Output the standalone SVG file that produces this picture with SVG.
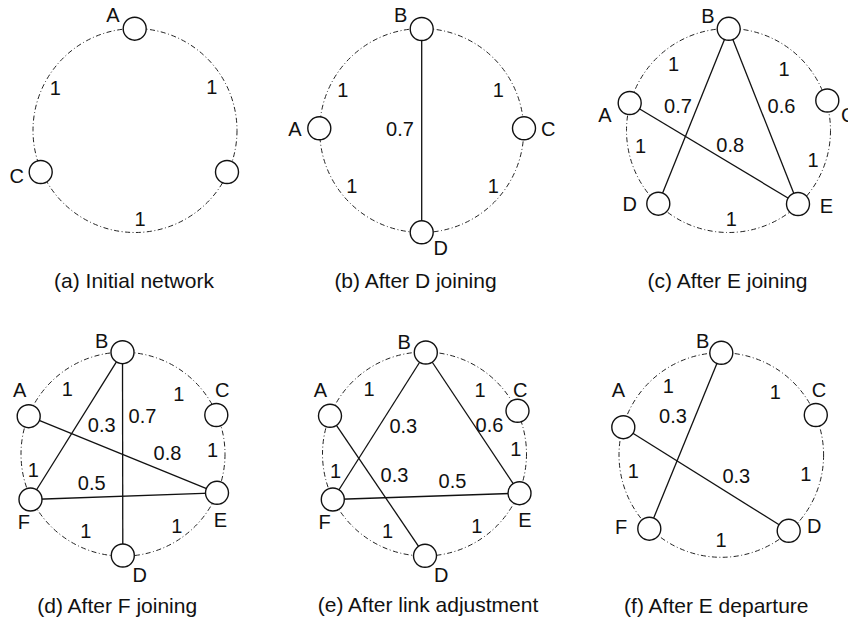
<svg xmlns="http://www.w3.org/2000/svg" width="848" height="622" viewBox="0 0 848 622">
<style>
text{font-family:"Liberation Sans",Arial,sans-serif;fill:#111}
.lbl{font-size:20px;text-anchor:middle}
.cap{font-size:21px;text-anchor:middle}
.ring{fill:none;stroke:#222;stroke-width:1;stroke-dasharray:5 2.5 1 2.5}
.edge{stroke:#111;stroke-width:1.3;fill:none}
.nd{fill:#fff;stroke:#111;stroke-width:1.4}
</style>
<rect width="848" height="622" fill="#fff"/>

<!-- rings -->
<g id="rings">
<circle class="ring" cx="135" cy="130.5" r="102"/>
<circle class="ring" cx="421.7" cy="130.5" r="102"/>
<circle class="ring" cx="728.5" cy="130.5" r="102"/>
<circle class="ring" cx="123" cy="454.2" r="102"/>
<circle class="ring" cx="424.5" cy="454" r="102"/>
<circle class="ring" cx="721.3" cy="455" r="102.3"/>
</g>

<!-- connectors -->
<g id="connectors">
<line class="edge" x1="421.7" y1="29" x2="421.7" y2="232.3"/>
<line class="edge" x1="728.7" y1="29" x2="658.3" y2="203.7"/>
<line class="edge" x1="728.7" y1="29" x2="798" y2="204"/>
<line class="edge" x1="629.7" y1="103" x2="798" y2="204"/>
<line class="edge" x1="122.5" y1="352.2" x2="30.5" y2="499.5"/>
<line class="edge" x1="122.5" y1="352.2" x2="122.8" y2="555.5"/>
<line class="edge" x1="28.7" y1="416.2" x2="217" y2="492.8"/>
<line class="edge" x1="30.5" y1="499.5" x2="217" y2="492.8"/>
<line class="edge" x1="425.8" y1="352.5" x2="332.8" y2="499.5"/>
<line class="edge" x1="425.8" y1="352.5" x2="519.5" y2="493.2"/>
<line class="edge" x1="330" y1="415.8" x2="425" y2="555.8"/>
<line class="edge" x1="332.8" y1="499.5" x2="519.5" y2="493.2"/>
<line class="edge" x1="721.3" y1="352.8" x2="649.3" y2="528.7"/>
<line class="edge" x1="623.3" y1="427.2" x2="788.7" y2="530.8"/>
</g>

<!-- panel a -->
<g id="a-A"><circle class="nd" cx="134.7" cy="28.7" r="11.5"/><text class="lbl" x="113" y="21.7">A</text></g>
<g id="a-C"><circle class="nd" cx="40.7" cy="172" r="11.5"/><text class="lbl" x="16.7" y="183.3">C</text></g>
<g id="a-X"><circle class="nd" cx="227" cy="172" r="11.5"/></g>
<g id="a-labels">
<text class="lbl" x="55.2" y="95">1</text>
<text class="lbl" x="211.7" y="94">1</text>
<text class="lbl" x="140" y="225.7">1</text>
<text class="cap" x="134" y="288">(a) Initial network</text>
</g>

<!-- panel b -->
<g id="b-B"><circle class="nd" cx="421.7" cy="29" r="11.5"/><text class="lbl" x="400.7" y="22.3">B</text></g>
<g id="b-A"><circle class="nd" cx="319.3" cy="128.3" r="11.5"/><text class="lbl" x="295" y="136">A</text></g>
<g id="b-C"><circle class="nd" cx="524" cy="128.3" r="11.5"/><text class="lbl" x="548.3" y="136">C</text></g>
<g id="b-D"><circle class="nd" cx="421.7" cy="232.3" r="11.5"/><text class="lbl" x="440.7" y="255">D</text></g>
<g id="b-labels">
<text class="lbl" x="342.7" y="96.7">1</text>
<text class="lbl" x="498.3" y="96.7">1</text>
<text class="lbl" x="351.7" y="192.7">1</text>
<text class="lbl" x="493.3" y="192.7">1</text>
<text class="lbl" x="400" y="136">0.7</text>
<text class="cap" x="415.5" y="288">(b) After D joining</text>
</g>

<!-- panel c -->
<g id="c-B"><circle class="nd" cx="728.7" cy="28.8" r="11.5"/><text class="lbl" x="708" y="23.3">B</text></g>
<g id="c-A"><circle class="nd" cx="629.7" cy="103" r="11.5"/><text class="lbl" x="604.8" y="121.7">A</text></g>
<g id="c-C"><circle class="nd" cx="827.3" cy="100.5" r="11.5"/><text class="lbl" x="841" y="122" style="text-anchor:start">C</text></g>
<g id="c-D"><circle class="nd" cx="658.3" cy="203.7" r="11.5"/><text class="lbl" x="629.7" y="210.7">D</text></g>
<g id="c-E"><circle class="nd" cx="798" cy="204" r="11.5"/><text class="lbl" x="826.3" y="213.3">E</text></g>
<g id="c-labels">
<text class="lbl" x="673.5" y="70.7">1</text>
<text class="lbl" x="784" y="75.7">1</text>
<text class="lbl" x="678" y="113.3">0.7</text>
<text class="lbl" x="781.5" y="113.3">0.6</text>
<text class="lbl" x="730.2" y="152.3">0.8</text>
<text class="lbl" x="640.5" y="153.3">1</text>
<text class="lbl" x="813" y="167.3">1</text>
<text class="lbl" x="731.3" y="225.7">1</text>
<text class="cap" x="727.5" y="288">(c) After E joining</text>
</g>

<!-- panel d -->
<g id="d-B"><circle class="nd" cx="122.5" cy="352.2" r="11.5"/><text class="lbl" x="101.7" y="348.3">B</text></g>
<g id="d-A"><circle class="nd" cx="28.7" cy="416.2" r="11.5"/><text class="lbl" x="19.7" y="397.3">A</text></g>
<g id="d-C"><circle class="nd" cx="216.3" cy="415" r="11.5"/><text class="lbl" x="222.2" y="397.3">C</text></g>
<g id="d-E"><circle class="nd" cx="217" cy="492.8" r="11.5"/><text class="lbl" x="220.3" y="527.3">E</text></g>
<g id="d-F"><circle class="nd" cx="30.5" cy="499.5" r="11.5"/><text class="lbl" x="23.8" y="529.3">F</text></g>
<g id="d-D"><circle class="nd" cx="122.8" cy="555.5" r="11.5"/><text class="lbl" x="139.7" y="581.7">D</text></g>
<g id="d-labels">
<text class="lbl" x="67.2" y="395.7">1</text>
<text class="lbl" x="178.8" y="400.7">1</text>
<text class="lbl" x="101.7" y="431.7">0.3</text>
<text class="lbl" x="142.5" y="423.3">0.7</text>
<text class="lbl" x="167.5" y="460">0.8</text>
<text class="lbl" x="212.5" y="457.3">1</text>
<text class="lbl" x="33.3" y="477.3">1</text>
<text class="lbl" x="91.7" y="490">0.5</text>
<text class="lbl" x="85.8" y="538.3">1</text>
<text class="lbl" x="176.7" y="533.3">1</text>
<text class="cap" x="117.2" y="613">(d) After F joining</text>
</g>

<!-- panel e -->
<g id="e-B"><circle class="nd" cx="425.8" cy="352.5" r="11.5"/><text class="lbl" x="404.2" y="349.3">B</text></g>
<g id="e-A"><circle class="nd" cx="330" cy="415.8" r="11.5"/><text class="lbl" x="320.5" y="397.3">A</text></g>
<g id="e-C"><circle class="nd" cx="517.5" cy="410.8" r="11.5"/><text class="lbl" x="520.3" y="397.3">C</text></g>
<g id="e-E"><circle class="nd" cx="519.5" cy="493.2" r="11.5"/><text class="lbl" x="525" y="527.3">E</text></g>
<g id="e-F"><circle class="nd" cx="332.8" cy="499.5" r="11.5"/><text class="lbl" x="324.7" y="529.3">F</text></g>
<g id="e-D"><circle class="nd" cx="425" cy="555.8" r="11.5"/><text class="lbl" x="441.2" y="581.7">D</text></g>
<g id="e-labels">
<text class="lbl" x="369" y="395.7">1</text>
<text class="lbl" x="480" y="397.3">1</text>
<text class="lbl" x="403.3" y="433.3">0.3</text>
<text class="lbl" x="489.5" y="431.7">0.6</text>
<text class="lbl" x="515.8" y="456">1</text>
<text class="lbl" x="335.5" y="478.3">1</text>
<text class="lbl" x="394.5" y="481.7">0.3</text>
<text class="lbl" x="452.5" y="488.3">0.5</text>
<text class="lbl" x="387.5" y="538.3">1</text>
<text class="lbl" x="476.7" y="533.3">1</text>
<text class="cap" x="428" y="612">(e) After link adjustment</text>
</g>

<!-- panel f -->
<g id="f-B"><circle class="nd" cx="721.3" cy="352.8" r="11.5"/><text class="lbl" x="702.7" y="348.3">B</text></g>
<g id="f-A"><circle class="nd" cx="623.3" cy="427.2" r="11.5"/><text class="lbl" x="618.3" y="397.3">A</text></g>
<g id="f-C"><circle class="nd" cx="815.8" cy="415" r="11.5"/><text class="lbl" x="819" y="397.3">C</text></g>
<g id="f-F"><circle class="nd" cx="649.3" cy="528.7" r="11.5"/><text class="lbl" x="621.2" y="534">F</text></g>
<g id="f-D"><circle class="nd" cx="788.7" cy="530.8" r="11.5"/><text class="lbl" x="814.3" y="532.7">D</text></g>
<g id="f-labels">
<text class="lbl" x="668.2" y="392.7">1</text>
<text class="lbl" x="775.3" y="399.3">1</text>
<text class="lbl" x="673" y="423.3">0.3</text>
<text class="lbl" x="633.2" y="478.3">1</text>
<text class="lbl" x="736.3" y="483.3">0.3</text>
<text class="lbl" x="805.7" y="480.7">1</text>
<text class="lbl" x="721" y="547.3">1</text>
<text class="cap" x="716.3" y="613">(f) After E departure</text>
</g>
</svg>
